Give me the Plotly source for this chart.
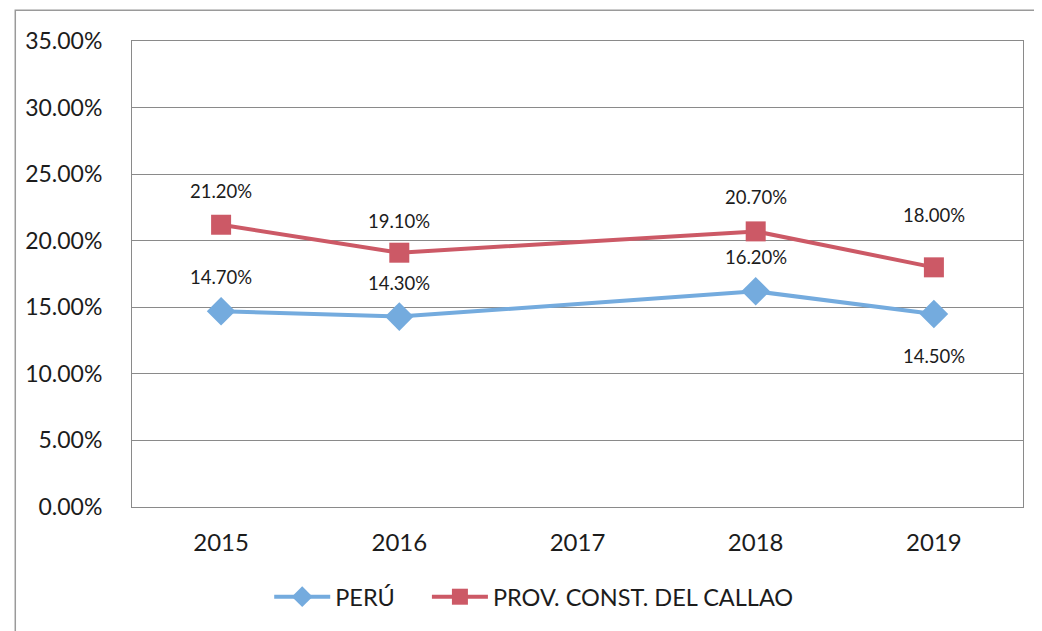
import plotly.graph_objects as go

years = [2015, 2016, 2017, 2018, 2019]
peru = [14.7, 14.3, None, 16.2, 14.5]
callao = [21.2, 19.1, None, 20.7, 18.0]
y_ticks = [0, 5, 10, 15, 20, 25, 30, 35]

# label offsets (style, in px) for each point's value label
peru_label_shift = [34, 34, 0, 34, -42]
callao_label_shift = [34, 32, 0, 34, 52]

BLUE = "#74ABDE"
RED = "#CC5966"
FONT = "Lato"
TXT = "#1c1c1c"

fig = go.Figure()
fig.add_trace(go.Scatter(
    x=years, y=peru, name="PERÚ", mode="lines+markers", connectgaps=True,
    line=dict(color=BLUE, width=4),
    marker=dict(symbol="diamond", size=22, color=BLUE),
    legend="legend",
))
fig.add_trace(go.Scatter(
    x=years, y=callao, name="PROV. CONST. DEL CALLAO", mode="lines+markers", connectgaps=True,
    line=dict(color=RED, width=4),
    marker=dict(symbol="square", size=20, color=RED),
    legend="legend2",
))

anns = []
for vals, shifts in ((callao, callao_label_shift), (peru, peru_label_shift)):
    for x, v, s in zip(years, vals, shifts):
        if v is not None:
            anns.append(dict(x=x, y=v, xref="x", yref="y", text=f"{v:.2f}%", showarrow=False,
                             yshift=s, font=dict(size=18.5, color=TXT, family=FONT)))

leg_common = dict(orientation="h", y=-0.193, yanchor="middle", xanchor="left",
                  font=dict(size=23.5, color=TXT, family=FONT), itemwidth=56,
                  bgcolor="rgba(0,0,0,0)")

# page body has an 8px default margin, so the figure is 8px smaller and offsets reduced
fig.update_layout(
    width=1034, height=623,
    margin=dict(l=124, r=19, t=33, b=124, autoexpand=False),
    paper_bgcolor="white", plot_bgcolor="white",
    font=dict(family=FONT, size=18, color=TXT),
    annotations=anns,
    showlegend=True,
    legend=dict(x=0.154, **leg_common),
    legend2=dict(x=0.331, **leg_common),
    xaxis=dict(type="linear", range=[years[0] - 0.5, years[-1] + 0.5],
               tickvals=years, ticktext=[str(y) for y in years],
               showgrid=False, showline=True, linecolor="#8a8a8a",
               linewidth=1, mirror=True, ticks="outside", ticklen=14,
               tickcolor="rgba(0,0,0,0)", tickfont=dict(size=24), zeroline=False),
    yaxis=dict(range=[0, 35], tickvals=y_ticks, ticktext=[f"{t:.2f}%" for t in y_ticks],
               showgrid=True, gridcolor="#8a8a8a", gridwidth=1,
               showline=True, linecolor="#8a8a8a", linewidth=1, mirror=True,
               ticks="outside", ticklen=24, tickcolor="rgba(0,0,0,0)",
               tickfont=dict(size=23), zeroline=False),
    shapes=[dict(type="rect", xref="paper", yref="paper", x0=-0.131, x1=1.05, y0=-0.3, y1=1.066,
                 line=dict(color="#9a9a9a", width=1.5), layer="below")],
)

fig.write_html("out.html")
